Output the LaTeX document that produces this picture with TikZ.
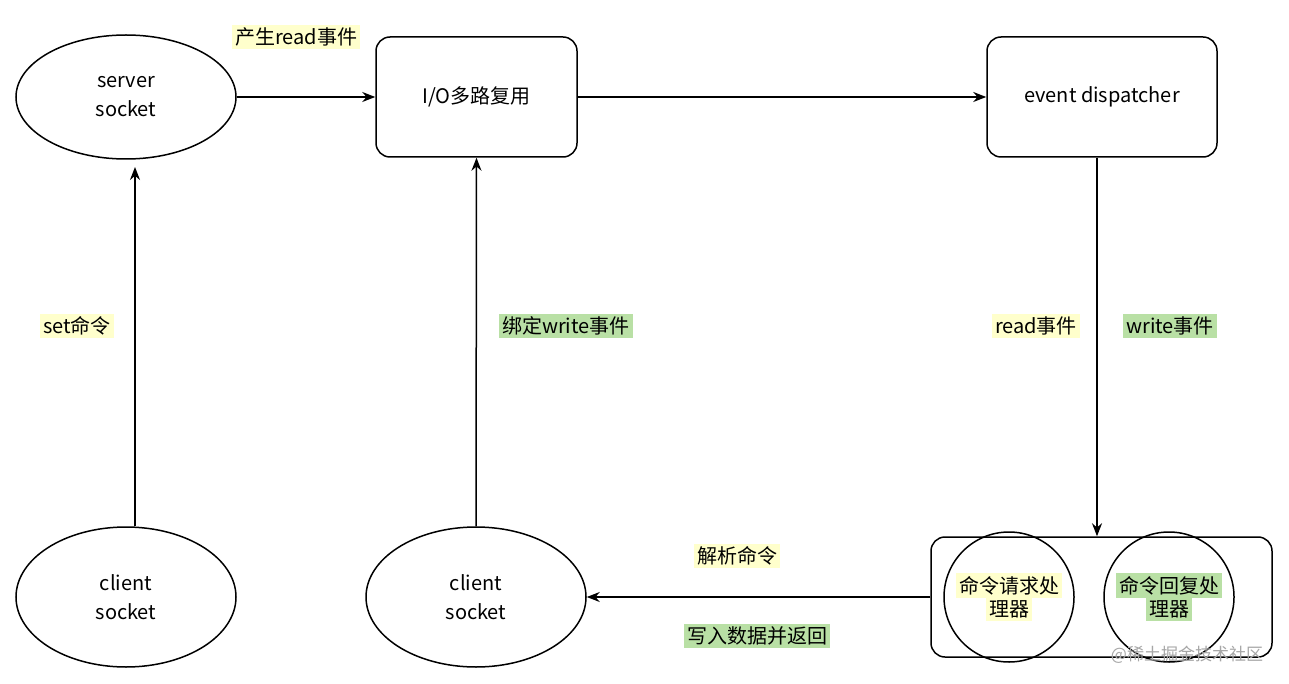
\documentclass[tikz,border=0pt]{standalone}
\usepackage{fontspec}
\setmainfont{TeX Gyre Heros}
\newfontfamily\cjk{Noto Sans CJK SC}
\usetikzlibrary{arrows.meta,positioning,shapes.geometric}
\definecolor{hlyellow}{HTML}{FFFFCC}
\definecolor{hlgreen}{HTML}{B9E0A5}
\tikzset{
  sock/.style={ellipse,draw,line width=1.5pt,minimum width=220pt,minimum height=124pt,align=center},
  box/.style={rectangle,rounded corners=14pt,draw,line width=1.5pt,align=center},
  proc/.style={circle,draw,line width=1.5pt,minimum size=130pt,inner sep=0pt,align=center},
  lbly/.style={fill=hlyellow,inner sep=3pt},
  lblg/.style={fill=hlgreen,inner sep=3pt},
  link/.style={-{Stealth[length=13pt,width=10pt]},line width=1.5pt}
}
\begin{document}
\begin{tikzpicture}[x=1pt,y=-1pt,font=\fontsize{20}{29}\selectfont\cjk]
  \useasboundingbox[fill=white] (0,0) rectangle (1289,684);
  % nodes
  \node (srv) [sock] at (126,97) {server\\socket};
  \node (cl1) [sock,minimum height=140pt] at (126,597) {client\\socket};
  \node (cl2) [sock,minimum height=140pt] at (476,597) {client\\socket};
  \node (io) [box,minimum width=201pt,minimum height=120pt] at (476.5,97) {I/O多路复用};
  \node (disp) [box,minimum width=230pt,minimum height=120pt] at (1102,97) {event dispatcher};
  \node (grp) [box,minimum width=341pt,minimum height=120pt] at (1101.5,597) {};
  \node (req) [proc] at (1009,597) {\colorbox{hlyellow}{命令请求处}\\[-6pt]\colorbox{hlyellow}{理器}};
  \node (rep) [proc] at (1169,597) {\colorbox{hlgreen}{命令回复处}\\[-6pt]\colorbox{hlgreen}{理器}};
  % connectors
  \draw [link] (srv.east) -- (io.west);
  \draw [link] (io.east) -- (disp.west);
  \draw [link] (cl1.north -| 135,0) -- (135,167);
  \draw [link] (cl2.north) -- (io.south);
  \draw [link] (disp.south -| 1097,0) -- (grp.north -| 1097,0);
  \draw [link] (grp.west) -- (cl2.east);
  % labels
  \node [lbly] at (296,37) {产生read事件};
  \node [lbly] at (77,326) {set命令};
  \node [lblg] at (566,326) {绑定write事件};
  \node [lbly] at (1036,326) {read事件};
  \node [lblg] at (1170,326) {write事件};
  \node [lbly] at (737,556) {解析命令};
  \node [lblg] at (757,636) {写入数据并返回};
  \node [text=black!35,font=\fontsize{17}{20}\selectfont\cjk] at (1187,655) {@稀土掘金技术社区};
\end{tikzpicture}
\end{document}
